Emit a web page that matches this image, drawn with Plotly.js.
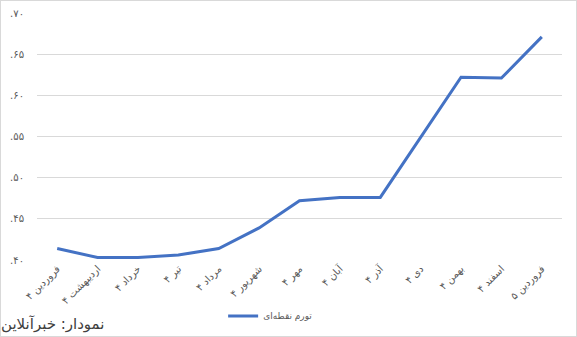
<!DOCTYPE html>
<html>
<head>
<meta charset="utf-8">
<script src="https://cdn.plot.ly/plotly-3.0.1.min.js"></script>
<style>
html,body{margin:0;padding:0;background:#fff;}
#chart{width:575px;height:335px;border:1px solid #d9d9d9;}
</style>
</head>
<body>
<div id="chart"></div>
<script>
const categories = ["فروردین ۴","اردیبهشت ۴","خرداد ۴","تیر ۴","مرداد ۴","شهریور ۴","مهر ۴","آبان ۴","آذر ۴","دی ۴","بهمن ۴","اسفند ۴","فروردین ۵"];
const inflation = [0.414, 0.403, 0.403, 0.406, 0.414, 0.439, 0.472, 0.476, 0.476, 0.549, 0.622, 0.621, 0.671];
const yTickVals = [0.40, 0.45, 0.50, 0.55, 0.60, 0.65, 0.70];
const yTickText = [".۴۰", ".۴۵", ".۵۰", ".۵۵", ".۶۰", ".۶۵", ".۷۰"];
const seriesName = "تورم نقطه‌ای";
const sourceText = "نمودار: خبرآنلاین";

const font = "DejaVu Sans, Noto Sans, sans-serif";
const trace = {
  x: categories, y: inflation, type: "scatter", mode: "lines", name: seriesName,
  line: {color: "#4472C4", width: 3}
};
const layout = {
  width: 575, height: 335,
  margin: {l: 36, r: 14, t: 12, b: 76},
  paper_bgcolor: "#fff", plot_bgcolor: "#fff",
  font: {family: font, size: 10, color: "#595959"},
  showlegend: true,
  legend: {orientation: "h", x: 0.445, xanchor: "center", yref: "container", y: 0.06, yanchor: "middle",
           font: {size: 9, color: "#595959"}, itemwidth: 30},
  xaxis: {type: "category", range: [-0.5, categories.length - 0.5], tickangle: -45,
          showgrid: false, showline: false, zeroline: false,
          ticks: "", tickfont: {size: 10, color: "#595959"}, fixedrange: true},
  yaxis: {range: [0.40, 0.70], tickvals: yTickVals, ticktext: yTickText, showgrid: true,
          gridcolor: "#d9d9d9", gridwidth: 1, zeroline: false, showline: false, ticks: "",
          ticklabelstandoff: 12, tickfont: {size: 10, color: "#595959"}},
  annotations: [{text: sourceText, xref: "paper", yref: "paper", x: -0.072, y: -0.258,
                 xanchor: "left", yanchor: "middle", showarrow: false,
                 font: {size: 15, color: "#404040", family: font}}]
};
Plotly.newPlot("chart", [trace], layout, {displayModeBar: false, staticPlot: true});
</script>
</body>
</html>
